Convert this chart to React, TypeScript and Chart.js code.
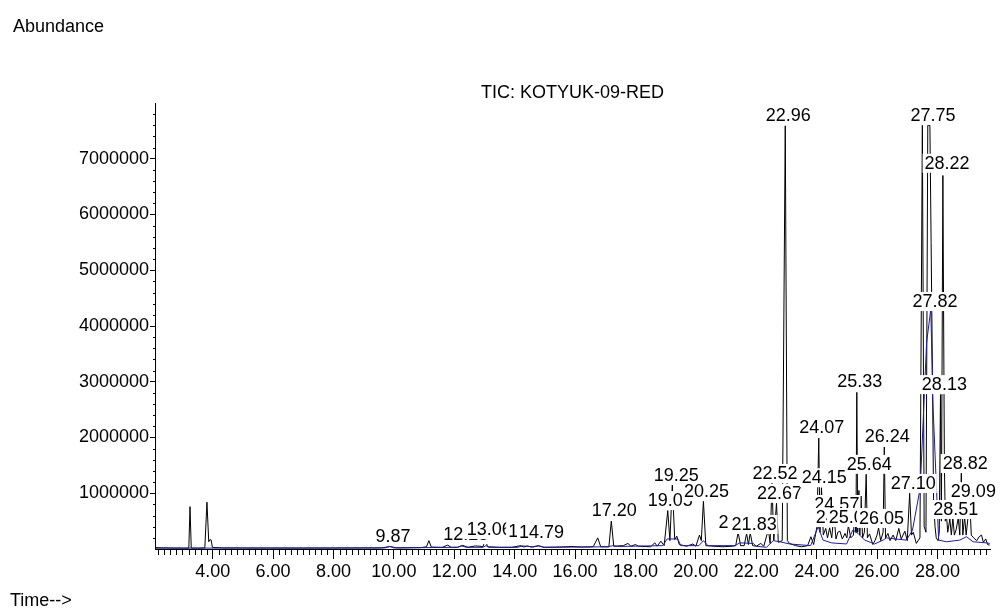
import { useEffect, useRef } from "react";
import { Chart, registerables } from "chart.js";

Chart.register(...registerables);

const FONT = '"Liberation Sans", Arial, Helvetica, sans-serif';

const chartTitle = "TIC: KOTYUK-09-RED";
const yAxisTitle = "Abundance";
const xAxisTitle = "Time-->";

// Total ion chromatogram (black trace): retention time (min) and abundance
const ticTime = [
  2.09, 2.3, 2.6, 3.0, 3.21, 3.25, 3.29, 3.5, 3.74, 3.81, 3.87, 3.91, 3.95, 3.99,
  4.3, 5.0, 6.0, 7.0, 8.0, 9.0, 9.6, 9.87, 10.1, 10.9, 11.08, 11.16, 11.24, 11.6,
  11.78, 11.9, 12.1, 12.28, 12.45, 12.7, 12.85, 12.95, 13.03, 13.1, 13.5, 13.9,
  14.2, 14.3, 14.43, 14.55, 14.79, 14.95, 15.5, 15.9, 16.2, 16.6, 16.75, 16.85,
  17.12, 17.2, 17.28, 17.6, 17.75, 17.85, 18.0, 18.1, 18.5, 18.64, 18.72, 18.84,
  18.95, 19.07, 19.14, 19.22, 19.3, 19.37, 19.45, 19.7, 19.9, 20.0, 20.12, 20.18,
  20.25, 20.33, 20.6, 20.9, 21.2, 21.32, 21.4, 21.48, 21.6, 21.68, 21.74, 21.8,
  21.88, 22.0, 22.15, 22.25, 22.4, 22.46, 22.52, 22.58, 22.67, 22.73, 22.86, 22.96,
  23.03, 23.1, 23.3, 23.5, 23.7, 23.81, 23.9, 24.01, 24.07, 24.11, 24.16, 24.22,
  24.3, 24.36, 24.43, 24.5, 24.57, 24.64, 24.7, 24.77, 24.85, 24.94, 25.0, 25.05,
  25.13, 25.22, 25.27, 25.3, 25.33, 25.36, 25.4, 25.43, 25.47, 25.52, 25.58, 25.64,
  25.68, 25.75, 25.86, 25.93, 26.0, 26.05, 26.12, 26.2, 26.24, 26.28, 26.36, 26.43,
  26.53, 26.62, 26.72, 26.8, 26.92, 27.0, 27.08, 27.14, 27.2, 27.3, 27.42, 27.5,
  27.56, 27.62, 27.68, 27.75, 27.79, 27.84, 27.87, 27.92, 27.96, 28.02, 28.06, 28.1,
  28.13, 28.18, 28.23, 28.26, 28.3, 28.34, 28.41, 28.46, 28.51, 28.56, 28.62, 28.69,
  28.74, 28.79, 28.84, 28.9, 28.95, 29.07, 29.12, 29.2, 29.3, 29.38, 29.46, 29.52,
  29.6, 29.66, 29.73,
];
const ticAbundance = [
  25000, 22000, 18000, 16000, 16000, 760000, 16000, 15000, 20000, 840000, 130000, 170000, 160000, 30000,
  20000, 18000, 17000, 16000, 17000, 18000, 20000, 45000, 20000, 25000, 40000, 150000, 35000, 30000,
  70000, 30000, 30000, 65000, 30000, 55000, 50000, 40000, 170000, 40000, 30000, 30000,
  60000, 35000, 55000, 35000, 60000, 30000, 35000, 45000, 35000, 40000, 200000, 40000,
  40000, 500000, 50000, 60000, 100000, 50000, 80000, 50000, 40000, 110000, 50000, 140000,
  60000, 690000, 150000, 1160000, 170000, 230000, 80000, 50000, 90000, 50000, 250000, 150000,
  860000, 60000, 50000, 40000, 50000, 60000, 300000, 60000, 60000, 280000, 80000, 290000,
  60000, 50000, 100000, 50000, 350000, 100000, 1180000, 150000, 820000, 120000, 150000, 7590000,
  150000, 100000, 60000, 40000, 60000, 220000, 80000, 400000, 1990000, 300000, 1100000, 250000,
  370000, 200000, 380000, 200000, 620000, 180000, 300000, 320000, 180000, 280000, 200000, 420000,
  200000, 250000, 900000, 300000, 2810000, 300000, 1050000, 250000, 950000, 200000, 300000, 1340000,
  200000, 270000, 80000, 150000, 250000, 380000, 150000, 300000, 1830000, 200000, 280000, 150000,
  250000, 150000, 370000, 180000, 320000, 150000, 1000000, 250000, 300000, 100000, 200000, 7600000,
  400000, 300000, 7600000, 7600000, 5500000, 2800000, 900000, 400000, 200000, 150000, 300000, 2770000,
  500000, 6700000, 1500000, 500000, 600000, 300000, 540000, 250000, 560000, 250000, 350000, 560000,
  250000, 1360000, 250000, 580000, 250000, 870000, 250000, 200000, 150000, 220000, 250000, 120000,
  180000, 80000, 70000,
];

// Blue overlay trace
const blueTime = [
  2.09, 9.7, 9.87, 10.0, 12.1, 12.25, 12.4, 12.95, 13.05, 13.15, 14.1, 14.25, 14.4, 14.6,
  14.8, 15.0, 17.1, 17.25, 17.4, 18.9, 19.05, 19.4, 19.5, 20.1, 20.25, 20.4, 21.3, 21.45,
  21.9, 22.0, 22.34, 22.56, 22.78, 23.11, 23.8, 24.05, 24.21, 24.49, 24.99, 25.2, 25.37,
  25.59, 25.92, 26.2, 26.31, 26.6, 26.97, 27.17, 27.43, 27.64, 27.78, 27.85, 28.04, 28.3,
  28.74, 28.96, 29.18, 29.62, 29.73,
];
const blueAbundance = [
  15000, 20000, 45000, 20000, 30000, 55000, 30000, 30000, 60000, 30000, 30000, 55000, 50000, 35000,
  55000, 30000, 40000, 60000, 45000, 60000, 180000, 180000, 60000, 60000, 150000, 60000, 60000, 110000,
  100000, 50000, 30000, 150000, 130000, 90000, 60000, 400000, 160000, 110000, 90000, 340000, 280000,
  160000, 90000, 160000, 200000, 180000, 160000, 330000, 1100000, 3700000, 4300000, 2600000, 160000, 130000,
  160000, 220000, 130000, 110000, 100000,
];

// Peak labels: retention time and the abundance level of the label's baseline
const labelTime = [
  9.87, 12.28, 13.06, 14.43, 14.79, 17.2, 19.05, 19.25, 20.25, 21.4, 21.83, 22.52, 22.67,
  22.96, 24.07, 24.15, 24.57, 24.62, 25.05, 25.33, 25.64, 26.05, 26.24, 27.1, 27.75, 27.82,
  28.13, 28.22, 28.51, 28.82, 29.09,
];
const labelLevel = [
  125000, 160000, 250000, 215000, 197000, 590000, 770000, 1220000, 930000, 377000, 340000, 1256000, 900000,
  7680000, 2080000, 1180000, 700000, 466000, 466000, 2910000, 1420000, 450000, 1920000, 1076000, 7680000, 4340000,
  2850000, 6820000, 610000, 1435000, 930000,
];

const xMin = 2.09;
const xMax = 29.74;
const yMax = 8000000;

export default function App() {
  const ref = useRef<HTMLCanvasElement>(null);

  useEffect(() => {
    const canvas = ref.current;
    if (!canvas) return;

    const annotate = {
      id: "annotate",
      afterDatasetsDraw(chart: any) {
        const { ctx, chartArea } = chart;
        const x = chart.scales.x;
        const y = chart.scales.y;
        ctx.save();
        ctx.strokeStyle = "#000";
        ctx.lineWidth = 1;
        ctx.beginPath();
        for (let k = Math.ceil(x.min * 5); k <= Math.floor(x.max * 5); k++) {
          if (k % 10 === 0) continue;
          const px = Math.round(x.getPixelForValue(k / 5)) + 0.5;
          ctx.moveTo(px, chartArea.bottom);
          ctx.lineTo(px, chartArea.bottom + 6);
        }
        for (let k = 1; k < 40; k++) {
          if (k % 5 === 0) continue;
          const py = Math.round(y.getPixelForValue(k * 200000)) + 0.5;
          ctx.moveTo(chartArea.left, py);
          ctx.lineTo(chartArea.left - 2, py);
        }
        ctx.stroke();

        ctx.font = `18px ${FONT}`;
        ctx.textAlign = "center";
        ctx.textBaseline = "alphabetic";
        labelTime.forEach((t, i) => {
          const text = t.toFixed(2);
          const cx = x.getPixelForValue(t) + 3;
          const by = y.getPixelForValue(labelLevel[i]);
          const w = ctx.measureText(text).width;
          ctx.fillStyle = "#fff";
          ctx.fillRect(cx - w / 2 - 2, by - 15, w + 3, 19);
          ctx.fillStyle = "#000";
          ctx.fillText(text, cx, by);
        });

        ctx.fillStyle = "#000";
        ctx.textAlign = "center";
        ctx.fillText(chartTitle, (chartArea.left + chartArea.right) / 2, 98);
        ctx.textAlign = "left";
        ctx.fillText(yAxisTitle, 13, 32);
        ctx.fillText(xAxisTitle, 10, 606);
        ctx.restore();
      },
    };

    const chart = new Chart(canvas, {
      type: "line",
      data: {
        datasets: [
          {
            data: blueTime.map((t, i) => ({ x: t, y: blueAbundance[i] })),
            borderColor: "#1c1c9c",
            borderWidth: 1,
            pointRadius: 0,
            tension: 0,
            order: 0,
          },
          {
            data: ticTime.map((t, i) => ({ x: t, y: ticAbundance[i] })),
            borderColor: "#000000",
            borderWidth: 1,
            pointRadius: 0,
            tension: 0,
            order: 1,
          },
        ],
      },
      options: {
        animation: false,
        responsive: false,
        devicePixelRatio: 1,
        events: [],
        layout: { padding: { top: 103, right: 10, bottom: 0, left: 0 } },
        plugins: {
          legend: { display: false },
          tooltip: { enabled: false },
          title: { display: false },
        },
        scales: {
          x: {
            type: "linear",
            min: xMin,
            max: xMax,
            afterFit: (s: any) => {
              s.height = 63;
            },
            border: { display: true, color: "#000", width: 1 },
            grid: {
              drawOnChartArea: false,
              drawTicks: true,
              tickLength: 10,
              tickColor: "#000",
              tickWidth: 1,
            },
            ticks: {
              stepSize: 2,
              includeBounds: false,
              autoSkip: false,
              maxRotation: 0,
              padding: 2,
              color: "#000",
              font: { family: FONT, size: 18 },
              callback: (v: any) => Number(v).toFixed(2),
            },
          },
          y: {
            type: "linear",
            min: 0,
            max: yMax,
            afterFit: (s: any) => {
              s.width = 155;
            },
            border: { display: true, color: "#000", width: 1 },
            grid: {
              drawOnChartArea: false,
              drawTicks: true,
              tickLength: 5,
              tickColor: (c: any) =>
                c.tick && (c.tick.value === 0 || c.tick.value === yMax) ? "rgba(0,0,0,0)" : "#000",
              tickWidth: 1,
            },
            ticks: {
              stepSize: 1000000,
              autoSkip: false,
              padding: 1,
              color: "#000",
              font: { family: FONT, size: 18 },
              callback: (v: any) => (v === 0 || v === yMax ? "" : String(v)),
            },
          },
        },
      },
      plugins: [annotate],
    });

    return () => chart.destroy();
  }, []);

  return (
    <div style={{ position: "fixed", left: 0, top: 0, width: 1000, height: 612, background: "#fff" }}>
      <canvas ref={ref} width={1000} height={612} style={{ display: "block" }} />
    </div>
  );
}
